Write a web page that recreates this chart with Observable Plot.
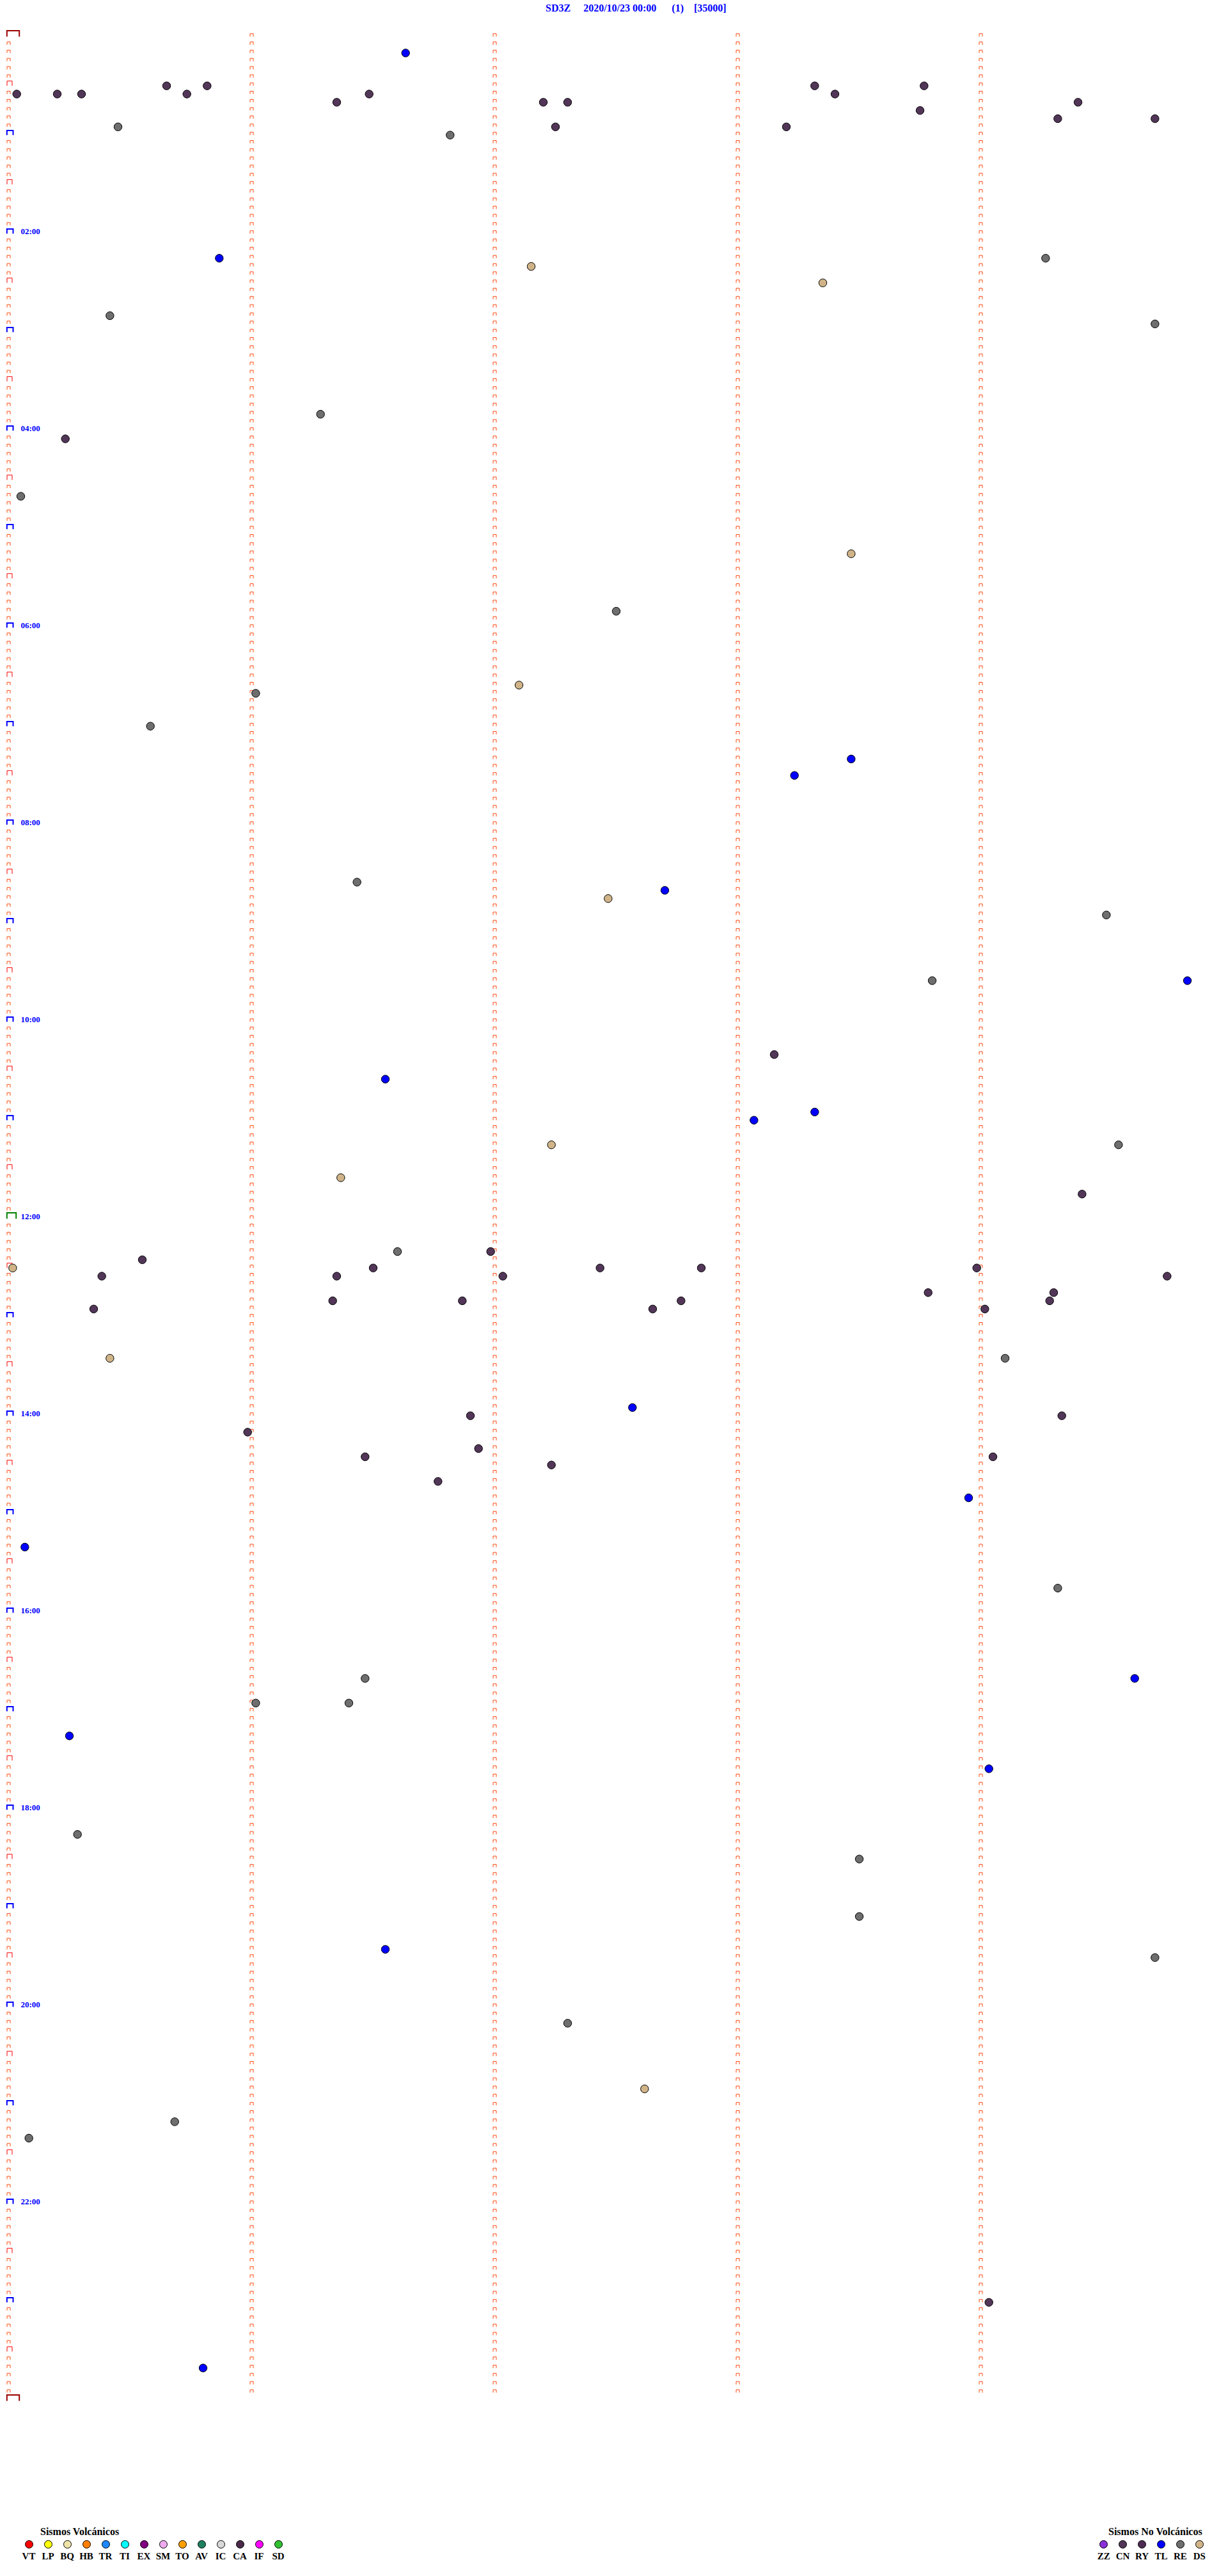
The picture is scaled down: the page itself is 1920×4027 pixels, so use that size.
<!DOCTYPE html>
<html>
<head>
<meta charset="utf-8">
<script src="https://cdn.jsdelivr.net/npm/d3@7"></script>
<script src="https://cdn.jsdelivr.net/npm/@observablehq/plot@0.6"></script>
<style>
  html, body { margin: 0; padding: 0; background: #ffffff; }
  body { width: 1920px; height: 4027px; position: relative; overflow: hidden;
         font-family: "Liberation Serif", "Times New Roman", serif; }
  #title { position: absolute; left: 853px; top: 5px; font-weight: bold; font-size: 16px;
           line-height: 16px; color: #0000ff; white-space: pre; }
  #chart { position: absolute; left: 0; top: 0; }
  .lg-title { position: absolute; font-weight: bold; font-size: 16px; line-height: 16px; color: #000; white-space: pre; }
  .lg-dot { position: absolute; width: 13px; height: 13px; box-sizing: border-box; border: 1px solid #000; border-radius: 50%; }
  .lg-lab { position: absolute; width: 40px; text-align: center; font-weight: bold; font-size: 15px; line-height: 15px; color: #000; }
</style>
</head>
<body>
<div id="title"></div>
<div id="chart"></div>
<div id="legend"></div>
<script>
// ---------------- DATA ----------------
const station = "SD3Z";
const dateLabel = "2020/10/23 00:00";
const pageLabel = "(1)";
const scaleLabel = "[35000]";

const hourLabels = ["02:00","04:00","06:00","08:00","10:00","12:00","14:00","16:00","18:00","20:00","22:00"];

// event times (hh:mm:ss) per type
const tlTimes = ["00:11:38","02:15:52","07:23:28","07:33:14","08:42:42","09:39:51","10:36:33","10:58:19",
  "11:03:04","13:57:34","14:53:57","15:20:04","16:44:38","17:15:15","17:39:02","19:26:33","23:40:48"];
const reTimes = ["00:55:27","01:01:49","02:19:16","02:50:25","02:59:43","03:51:17","04:40:03","05:52:30",
  "06:41:01","07:00:35","08:36:26","08:59:31","09:38:48","11:19:34","12:21:36","13:29:06","15:49:19",
  "16:41:28","16:56:01","16:56:24","18:15:17","18:33:30","19:08:30","19:34:43","20:12:18","21:10:41","21:20:05"];
const dsTimes = ["02:22:09","02:33:21","05:18:28","06:37:06","08:47:28","11:17:14","11:36:22","12:30:01",
  "13:25:25","20:52:37"];
const cnTimes = ["00:30:39","00:30:49","00:33:19","00:33:46","00:35:02","00:35:12","00:35:18","00:35:44",
  "00:36:29","00:38:24","00:41:21","00:42:12","00:42:18","00:44:24","00:48:45","00:54:19","00:54:43",
  "00:57:15","00:58:12","04:05:14","10:23:09","11:49:25","12:21:59","12:25:33","12:31:30","12:32:26",
  "12:32:51","12:33:59","12:35:23","12:36:21","12:37:02","12:39:46","12:48:47","12:49:18","12:51:20",
  "12:51:52","12:52:46","12:54:17","12:55:21","12:57:39","12:59:01","14:01:54","14:04:20","14:10:59",
  "14:21:56","14:26:28","14:29:03","14:32:14","14:41:46","23:04:02"];
const ryTimes = [];
const zzTimes = [];

const volcanicTypes  = ["VT","LP","BQ","HB","TR","TI","EX","SM","TO","AV","IC","CA","IF","SD"];
const volcanicColors = ["#ff0000","#ffff00","#eee3a8","#ff8000","#1e88ff","#00ffff","#800080","#eeaaee",
                        "#ffa000","#1e8060","#d8d8d8","#4a2a48","#ff00ff","#30c030"];
const nonVolcanicTypes  = ["ZZ","CN","RY","TL","RE","DS"];
const nonVolcanicColors = ["#8a30d8","#523658","#4e2c52","#0000ff","#6e6e6e","#d0b488"];

// ---------------- BUILD ----------------
document.getElementById("title").textContent =
  station + "     " + dateLabel + "      " + pageLabel + "    " + scaleLabel;

function toMin(s) { const [h, m, sec] = s.split(":").map(Number); return h * 60 + m + sec / 60; }

const byType = {ZZ: zzTimes, CN: cnTimes, RY: ryTimes, TL: tlTimes, RE: reTimes, DS: dsTimes};
const events = [];
for (const [type, arr] of Object.entries(byType)) {
  for (const s of arr) {
    const t = toMin(s);
    const row = Math.floor(t / 5) * 5;
    events.push({type, row, off: t - row, t});
  }
}
events.sort((a, b) => a.t - b.t);

// helicorder row ticks (every 5 minutes) on each minute column
const rowsPerDay = 288;
const colTicks = [];
for (let c = 1; c <= 4; c++) for (let r = 0; r < rowsPerDay; r++) colTicks.push({x: c, y: r * 5});
const leftTicks = [];
for (let r = 0; r <= rowsPerDay; r++) {
  let kind;
  if (r === 0 || r === rowsPerDay) kind = "day";
  else if (r === 144) kind = "noon";
  else if (r % 12 === 0) kind = "hour";
  else if (r % 6 === 0) kind = "half";
  else kind = "five";
  leftTicks.push({x: 0, y: r * 5, kind});
}
const hourLabelData = hourLabels.map(s => ({x: 0, y: toMin(s + ":00"), label: s}));

function bracket(x0, w, h) {
  return { draw(ctx) { ctx.moveTo(x0, 0); ctx.lineTo(x0, -h); ctx.lineTo(x0 + w, -h); ctx.lineTo(x0 + w, 0); } };
}
const symFive = bracket(-2.5, 5, 4.5);
const symHalf = bracket(-2.5, 8, 7.5);
const symHour = bracket(-2.7, 9.7, 7.3);
const symNoon = bracket(-2.7, 14.4, 9.2);
const symDay  = bracket(-2.7, 19.4, 9.2);

const chart = Plot.plot({
  width: 1920,
  height: 3800,
  margin: 0,
  style: {background: "transparent", overflow: "visible"},
  x: {domain: [0, 5], range: [13, 1913], axis: null},
  y: {domain: [0, 1440], range: [56.7, 3752.7], axis: null},
  color: {domain: nonVolcanicTypes, range: nonVolcanicColors},
  marks: [
    Plot.dot(colTicks, {x: "x", y: "y", r: 1, symbol: symFive, stroke: "#ff4a10", strokeWidth: 1, fill: "none"}),
    Plot.dot(leftTicks.filter(d => d.kind === "five"), {x: "x", y: "y", r: 1, symbol: symFive, stroke: "#ff4a10", strokeWidth: 1, fill: "none"}),
    Plot.dot(leftTicks.filter(d => d.kind === "half"), {x: "x", y: "y", r: 1, symbol: symHalf, stroke: "#ff0000", strokeWidth: 1, fill: "none"}),
    Plot.dot(leftTicks.filter(d => d.kind === "hour"), {x: "x", y: "y", r: 1, symbol: symHour, stroke: "#0000ff", strokeWidth: 2, fill: "none"}),
    Plot.dot(leftTicks.filter(d => d.kind === "noon"), {x: "x", y: "y", r: 1, symbol: symNoon, stroke: "#008000", strokeWidth: 2, fill: "none"}),
    Plot.dot(leftTicks.filter(d => d.kind === "day"), {x: "x", y: "y", r: 1, symbol: symDay, stroke: "#990000", strokeWidth: 2, fill: "none"}),
    Plot.text(hourLabelData, {x: "x", y: "y", text: "label", dx: 19, dy: 0.5, textAnchor: "start", lineAnchor: "bottom",
      fill: "#0000ff", fontWeight: "bold", fontSize: 13, fontFamily: "Liberation Serif, serif"}),
    Plot.dot(events, {x: "off", y: "row", r: 6.2, fill: "type", stroke: "#000000", strokeWidth: 1})
  ]
});
document.getElementById("chart").appendChild(chart);

// ---------------- LEGENDS ----------------
const legend = document.getElementById("legend");
function addLegend(titleText, titleLeft, types, colors, x0, step) {
  const t = document.createElement("div");
  t.className = "lg-title";
  t.style.left = titleLeft + "px";
  t.style.top = "3949.6px";
  t.textContent = titleText;
  legend.appendChild(t);
  types.forEach((ty, i) => {
    const cx = x0 + step * i;
    const d = document.createElement("div");
    d.className = "lg-dot";
    d.style.left = (cx - 6.5) + "px";
    d.style.top = (3977.3 - 6.5) + "px";
    d.style.background = colors[i];
    legend.appendChild(d);
    const l = document.createElement("div");
    l.className = "lg-lab";
    l.style.left = (cx - 20) + "px";
    l.style.top = "3989.1px";
    l.textContent = ty;
    legend.appendChild(l);
  });
}
addLegend("Sismos Volcánicos", 63, volcanicTypes, volcanicColors, 45, 30);
addLegend("Sismos No Volcánicos", 1733, nonVolcanicTypes, nonVolcanicColors, 1725.7, 29.93);
</script>
</body>
</html>
